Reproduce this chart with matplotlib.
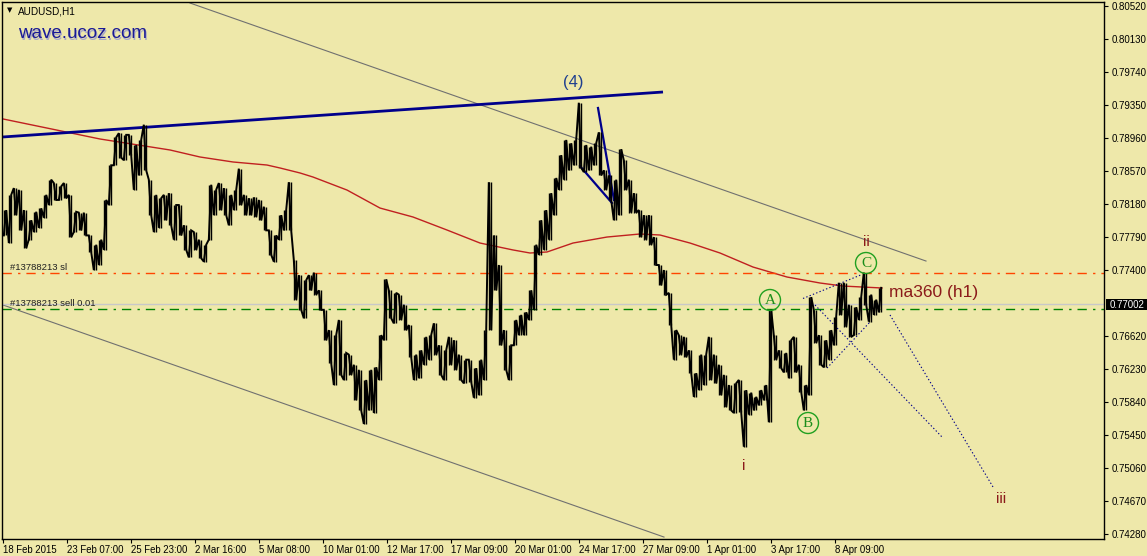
import matplotlib
matplotlib.use('Agg')
import matplotlib.pyplot as plt
from matplotlib.patches import Circle, Rectangle
import numpy as np

W, H = 1147, 556
BG = '#eee8aa'
plt.rcParams['font.family'] = ['Liberation Sans', 'DejaVu Sans']

# ---------------- data ----------------
seg_step = 5  # bars per segment
seg_high = [0.7811, 0.7829, 0.7837, 0.7835, 0.7811, 0.7799, 0.7809, 0.7813, 0.7829, 0.7847,
            0.7843, 0.7839, 0.7843, 0.7829, 0.7809, 0.7808, 0.7808, 0.7781, 0.7770, 0.7776,
            0.7823, 0.7864, 0.7897, 0.7902, 0.7900, 0.7900, 0.7888, 0.7894, 0.7912, 0.7847,
            0.7829, 0.7825, 0.7829, 0.7831, 0.7817, 0.7817, 0.7793, 0.7787, 0.7785, 0.7776,
            0.7770, 0.7841, 0.7835, 0.7843, 0.7837, 0.7829, 0.7835, 0.7860, 0.7829, 0.7825,
            0.7826, 0.7823, 0.7815, 0.7787, 0.7781, 0.7805, 0.7811, 0.7844, 0.7752, 0.7734,
            0.7728, 0.7734, 0.7737, 0.7716, 0.7693, 0.7669, 0.7663, 0.7681, 0.7642, 0.7640,
            0.7628, 0.7622, 0.7610, 0.7622, 0.7625, 0.7663, 0.7729, 0.7716, 0.7713, 0.7711,
            0.7699, 0.7675, 0.7640, 0.7645, 0.7661, 0.7663, 0.7677, 0.7651, 0.7645, 0.7661,
            0.7657, 0.7640, 0.7634, 0.7634, 0.7624, 0.7634, 0.7669, 0.7844, 0.7781, 0.7746,
            0.7669, 0.7651, 0.7681, 0.7687, 0.7690, 0.7716, 0.7770, 0.7799, 0.7811, 0.7831,
            0.7849, 0.7876, 0.7894, 0.7890, 0.7894, 0.7938, 0.7888, 0.7886, 0.7890, 0.7903,
            0.7858, 0.7852, 0.7847, 0.7883, 0.7870, 0.7847, 0.7831, 0.7811, 0.7805, 0.7805,
            0.7779, 0.7746, 0.7740, 0.7713, 0.7669, 0.7663, 0.7661, 0.7645, 0.7618, 0.7640,
            0.7640, 0.7661, 0.7640, 0.7628, 0.7616, 0.7604, 0.7606, 0.7610, 0.7598, 0.7595,
            0.7590, 0.7598, 0.7604, 0.7693, 0.7663, 0.7645, 0.7642, 0.7657, 0.7661, 0.7628,
            0.7604, 0.7708, 0.7693, 0.7663, 0.7657, 0.7669, 0.7685, 0.7725, 0.7725, 0.7699,
            0.7696, 0.7708, 0.7737, 0.7711, 0.7705, 0.7719]
seg_low = [0.7781, 0.7772, 0.7805, 0.7787, 0.7766, 0.7776, 0.7785, 0.7790, 0.7802, 0.7817,
           0.7823, 0.7823, 0.7825, 0.7779, 0.7785, 0.7787, 0.7781, 0.7761, 0.7740, 0.7746,
           0.7764, 0.7817, 0.7864, 0.7873, 0.7870, 0.7876, 0.7835, 0.7852, 0.7858, 0.7805,
           0.7785, 0.7790, 0.7799, 0.7793, 0.7776, 0.7781, 0.7764, 0.7755, 0.7764, 0.7754,
           0.7750, 0.7776, 0.7805, 0.7811, 0.7805, 0.7793, 0.7811, 0.7817, 0.7805, 0.7805,
           0.7803, 0.7799, 0.7787, 0.7758, 0.7750, 0.7776, 0.7787, 0.7787, 0.7705, 0.7693,
           0.7683, 0.7716, 0.7711, 0.7693, 0.7657, 0.7630, 0.7604, 0.7616, 0.7610, 0.7616,
           0.7586, 0.7574, 0.7558, 0.7574, 0.7571, 0.7610, 0.7657, 0.7683, 0.7677, 0.7681,
           0.7669, 0.7637, 0.7610, 0.7612, 0.7628, 0.7634, 0.7640, 0.7616, 0.7610, 0.7628,
           0.7622, 0.7610, 0.7606, 0.7608, 0.7589, 0.7592, 0.7610, 0.7669, 0.7716, 0.7651,
           0.7622, 0.7610, 0.7651, 0.7663, 0.7663, 0.7681, 0.7693, 0.7758, 0.7764, 0.7776,
           0.7805, 0.7835, 0.7847, 0.7858, 0.7864, 0.7861, 0.7856, 0.7858, 0.7864, 0.7852,
           0.7835, 0.7823, 0.7799, 0.7805, 0.7835, 0.7808, 0.7808, 0.7779, 0.7776, 0.7770,
           0.7746, 0.7722, 0.7711, 0.7675, 0.7634, 0.7640, 0.7637, 0.7618, 0.7590, 0.7598,
           0.7604, 0.7610, 0.7606, 0.7592, 0.7578, 0.7574, 0.7571, 0.7572, 0.7531, 0.7569,
           0.7574, 0.7580, 0.7586, 0.7560, 0.7634, 0.7624, 0.7619, 0.7612, 0.7619, 0.7596,
           0.7574, 0.7592, 0.7654, 0.7628, 0.7625, 0.7634, 0.7651, 0.7687, 0.7673, 0.7661,
           0.7663, 0.7681, 0.7699, 0.7679, 0.7687, 0.7690]

ma_bars = [0, 97, 167, 197, 230, 264, 277, 297, 310, 344, 377, 410, 444, 477, 510, 527,
           544, 570, 604, 637, 657, 687, 717, 750, 784, 817, 840, 879]
ma_vals = [0.79188, 0.78951, 0.78821, 0.78738, 0.78679, 0.78643, 0.78608, 0.78549, 0.78501,
           0.78347, 0.78134, 0.78028, 0.77874, 0.77720, 0.77638, 0.77602, 0.77614, 0.77720,
           0.77791, 0.77827, 0.77815, 0.77720, 0.77602, 0.77436, 0.77318, 0.77247, 0.77211, 0.77188]

xtick_labels = ['18 Feb 2015', '23 Feb 07:00', '25 Feb 23:00', '2 Mar 16:00', '5 Mar 08:00',
                '10 Mar 01:00', '12 Mar 17:00', '17 Mar 09:00', '20 Mar 01:00', '24 Mar 17:00',
                '27 Mar 09:00', '1 Apr 01:00', '3 Apr 17:00', '8 Apr 09:00']
bars_per_label = 64
ytick_values = [0.80520, 0.80130, 0.79740, 0.79350, 0.78960, 0.78570, 0.78180, 0.77790,
                0.77400, 0.76620, 0.76230, 0.75840, 0.75450, 0.75060, 0.74670, 0.74280]

bid_price = 0.77002
sl_price = 0.77370
entry_price = 0.76937

# trend / channel lines: (bar0, price0, bar1, price1)
blue_trend = (0, 0.78975, 660, 0.79507)
blue_steep = (595, 0.79318, 611, 0.78229)
blue_diag = (577, 0.78631, 609, 0.78194)
chan_upper = (187, 0.80560, 923, 0.77507)
chan_lower = (0, 0.76987, 661, 0.74241)
dotted_lines = [(800, 0.77064, 859, 0.77348),
                (824, 0.76241, 867, 0.76786),
                (812, 0.76987, 939, 0.75425),
                (887, 0.76869, 990, 0.74834)]

# ---------------- figure ----------------
fig = plt.figure(figsize=(W / 100, H / 100), dpi=100, facecolor=BG)
L, R, T, B = 2, 1104, 2, 539
ax = fig.add_axes([L / W, (H - B) / H, (R - L) / W, (B - T) / H])
ax.set_facecolor(BG)
ax.set_xlim(-1, 1101)
ax.set_ylim(0.74218, 0.80572)
for s in ax.spines.values():
    s.set_color('black')
    s.set_linewidth(1.0)

def seg(line, **kw):
    ax.plot([line[0], line[2]], [line[1], line[3]], **kw)

DASHDOT = (6.7, 4.5, 1.7, 4.3)

# indicator / objects
seg(chan_upper, color='#707070', lw=0.8)
seg(chan_lower, color='#707070', lw=0.8)
ax.plot(ma_bars, ma_vals, color='#c02020', lw=1.0)
ax.axhline(bid_price, color='#c8c8c8', lw=1.0)
ax.axhline(sl_price, color='#ff4500', lw=1.0, dashes=DASHDOT)
ax.axhline(entry_price, color='#008000', lw=1.0, dashes=DASHDOT)
seg(blue_trend, color='#00008b', lw=2.0, solid_capstyle='butt')
seg(blue_steep, color='#00008b', lw=1.6)
seg(blue_diag, color='#00008b', lw=1.6)
for dl in dotted_lines:
    seg(dl, color='#00008b', lw=0.8, dashes=(1.2, 2.0))

# price bars (high/low per segment drawn as a dense jagged trace)
n = len(seg_high)
xs, ys = [], []
for k in range(n):
    x0 = k * seg_step
    mid = (seg_high[k] + seg_low[k]) / 2
    nxt = (seg_high[k + 1] + seg_low[k + 1]) / 2 if k + 1 < n else mid
    first, second = (seg_low[k], seg_high[k]) if nxt >= mid else (seg_high[k], seg_low[k])
    xs += [x0 + 0.8, x0 + 3.2]
    ys += [first, second]
ax.plot(xs, ys, color='black', lw=1.4, solid_joinstyle='miter')
xb = np.arange(n) * seg_step
ax.vlines(xb + 0.8, seg_low, seg_high, color='black', lw=1.0)
ax.vlines(xb + 3.2, seg_low, seg_high, color='black', lw=1.0)

# axes ticks
ax.xaxis.tick_bottom()
ax.set_xticks(np.arange(len(xtick_labels)) * bars_per_label)
ax.set_xticklabels(xtick_labels, fontsize=6.9, ha='left')
ax.tick_params(axis='x', length=3, width=0.8, pad=1.5, colors='black')
ax.yaxis.tick_right()
ax.set_yticks(ytick_values)
ax.set_yticklabels(['%.5f' % v for v in ytick_values], fontsize=7.0)
ax.tick_params(axis='y', length=3, width=0.8, pad=2.5)

# ---------------- texts ----------------
def px(x, y):
    return x / W, 1 - y / H

fig.text(*px(7, 10.5), '\u25bc', fontsize=5, va='center', ha='left', family='DejaVu Sans')
fig.text(*px(18, 11), 'AUDUSD,H1', fontsize=7.2, va='center', ha='left')
fig.text(*px(19.3, 35.3), 'wave.ucoz.com', fontsize=13.5, va='center', ha='left', color='#a8a8c8')
fig.text(*px(18, 34), 'wave.ucoz.com', fontsize=13.5, va='center', ha='left', color='#1a1a96')
fig.text(*px(10, 267), '#13788213 sl', fontsize=6.8, va='center', ha='left', color='#202020')
fig.text(*px(10, 304), '#13788213 sell 0.01', fontsize=6.8, va='center', ha='left', color='#202020')

fig.text(*px(573, 82), '(4)', fontsize=12, va='center', ha='center', color='#1f3f8f')
red = '#8b1a1a'
fig.text(*px(866, 242), 'ii', fontsize=11, va='center', ha='center', color=red)
fig.text(*px(744, 466), 'i', fontsize=11, va='center', ha='center', color=red)
fig.text(*px(1001, 499), 'iii', fontsize=11, va='center', ha='center', color=red)
fig.text(*px(889, 292), 'ma360 (h1)', fontsize=12.5, va='center', ha='left', color=red)

green = '#1a8c1a'
for (cx, cy, lab) in [(770, 300, 'A'), (808, 423, 'B'), (866, 263, 'C')]:
    fig.add_artist(Circle((cx / 100, (H - cy) / 100), 0.105, transform=fig.dpi_scale_trans,
                          facecolor='none', edgecolor='#20a020', lw=1.0))
    fig.text(*px(cx, cy + 0.5), lab, fontsize=11, va='center', ha='center', color=green,
             family='Liberation Serif')

# current price box
fig.add_artist(Rectangle((1106 / 100, (H - 310) / 100), 0.41, 0.11, transform=fig.dpi_scale_trans,
                         facecolor='black', edgecolor='none'))
fig.text(*px(1110, 304.5), '0.77002', fontsize=7.0, va='center', ha='left', color='white')

fig.savefig('out.png', dpi=100, facecolor=BG)
